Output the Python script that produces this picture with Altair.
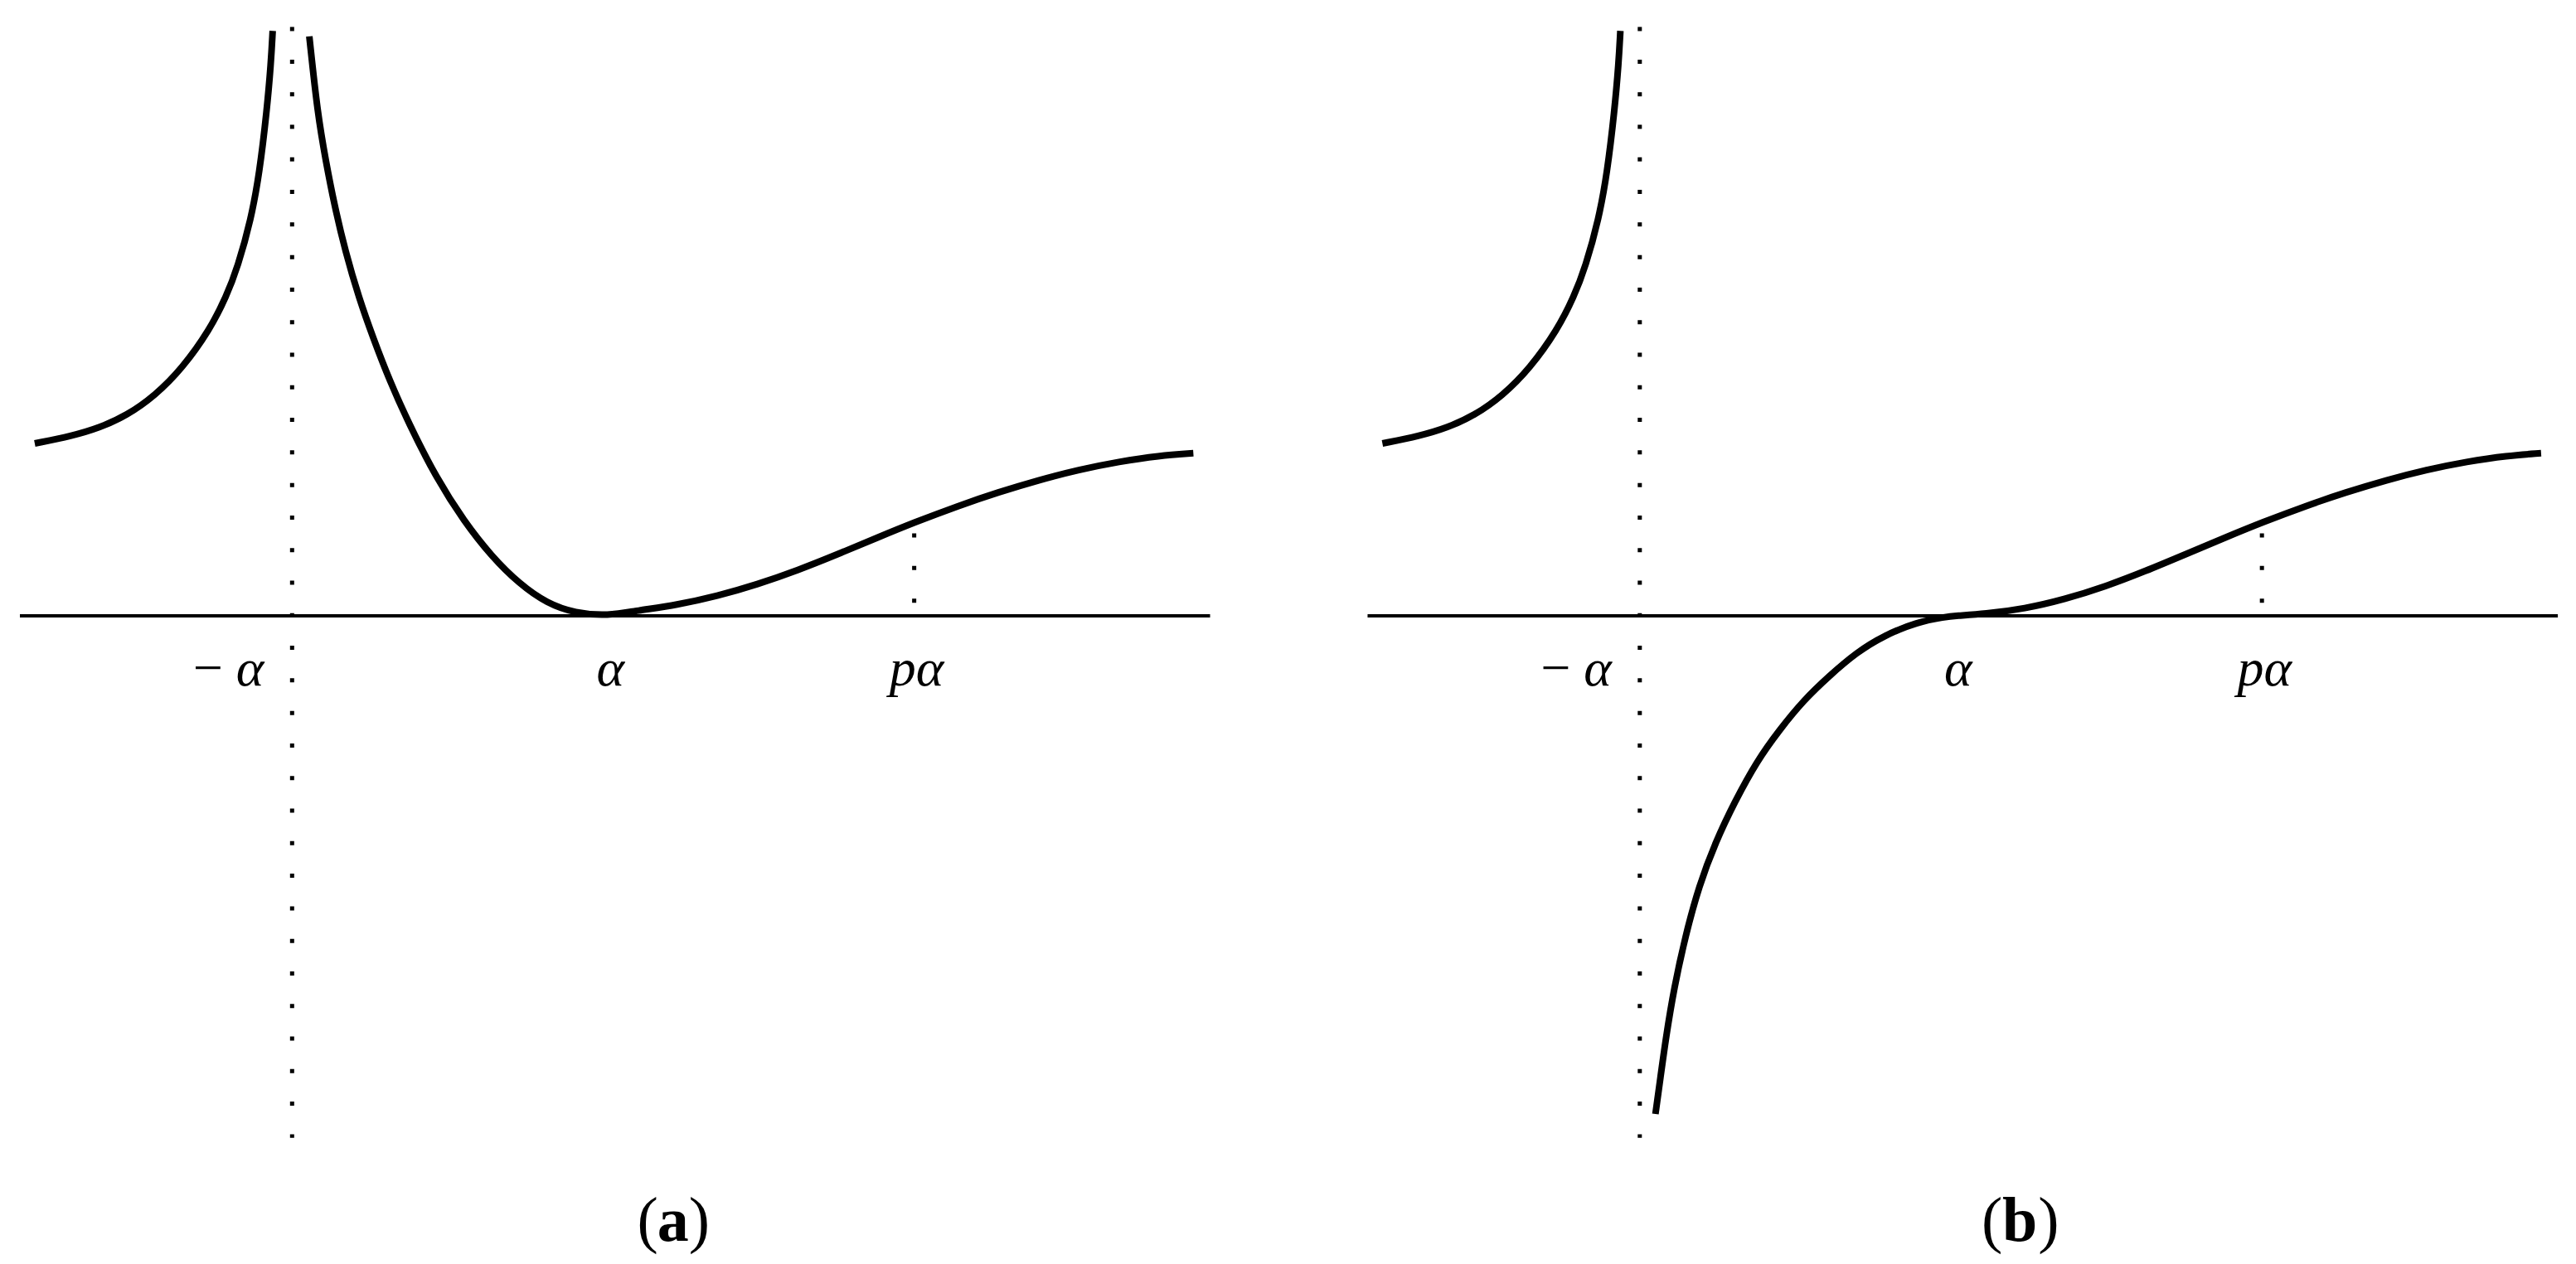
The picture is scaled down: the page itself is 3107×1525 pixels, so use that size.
import altair as alt
import pandas as pd

# ---- values (x in units of alpha, y in the same plot units) ----
tick_x = [-1.0, 1.0, 2.94]
tick_text = ["−\u2009α", "α", "pα"]

# left branch (identical in both panels): x < -alpha
left_x = [-2.630, -2.394, -2.220, -2.047, -1.869, -1.696, -1.522, -1.417, -1.344, -1.260, -1.207, -1.160, -1.134, -1.123]
left_y = [1.092, 1.139, 1.191, 1.269, 1.394, 1.567, 1.811, 2.021, 2.211, 2.513, 2.803, 3.200, 3.500, 3.706]

# panel (a): branch right of the pole, falling to a double zero at alpha, then rising
a_right_x = [-0.891, -0.838, -0.786, -0.733, -0.663, -0.576, -0.488, -0.383, -0.261, -0.086, 0.089, 0.264, 0.439,
             0.614, 0.792, 1.0, 1.184, 1.438, 1.692, 1.947, 2.202, 2.456, 2.710, 2.939, 3.219, 3.473, 3.728,
             3.983, 4.237, 4.491, 4.708]
a_right_y = [3.671, 3.176, 2.879, 2.606, 2.309, 2.012, 1.764, 1.491, 1.219, 0.872, 0.599, 0.376, 0.203,
             0.079, 0.017, 0.0, 0.033, 0.069, 0.125, 0.199, 0.288, 0.390, 0.497, 0.591, 0.697, 0.783, 0.860,
             0.926, 0.977, 1.015, 1.030]

# panel (b): branch coming up from -infinity through a triple zero at alpha, then rising
b_right_x = [-0.901, -0.870, -0.835, -0.782, -0.712, -0.625, -0.520, -0.397, -0.257, -0.117, 0.040, 0.198,
             0.373, 0.548, 0.757, 0.933, 1.0, 1.184, 1.438, 1.692, 1.947, 2.202, 2.456, 2.710, 2.939, 3.219,
             3.473, 3.728, 3.983, 4.237, 4.491, 4.708]
b_right_y = [-3.156, -2.931, -2.674, -2.353, -2.031, -1.710, -1.432, -1.174, -0.918, -0.724, -0.532, -0.382,
             -0.231, -0.124, -0.039, -0.007, 0.0, 0.012, 0.045, 0.105, 0.185, 0.283, 0.390, 0.497, 0.591, 0.697,
             0.783, 0.860, 0.926, 0.977, 1.015, 1.030]

axis_from, axis_to = -2.724, 4.814
asym_top, asym_bottom = 3.730, -3.306
p_dot_top = 0.522

captions = ["a", "b"]

Y_DOM = [-4.068, 3.858]


def curve_frame(parts):
    rows = []
    for name, xs, ys in parts:
        for xv, yv in zip(xs, ys):
            rows.append({"x": xv, "y": yv, "branch": name})
    return pd.DataFrame(rows)


def panel(df, xdom, width, cap, cap_pos):
    X = alt.X("x:Q", scale=alt.Scale(domain=xdom, nice=False, zero=False), axis=None)
    Y = alt.Y("y:Q", scale=alt.Scale(domain=Y_DOM, nice=False, zero=False), axis=None)

    curves = alt.Chart(df).mark_line(
        color="black", strokeWidth=8, interpolate="basis", strokeCap="butt"
    ).encode(x=X, y=Y, detail="branch:N")

    axis_line = alt.Chart(pd.DataFrame({"x": [axis_from], "x2": [axis_to], "y": [0.0]})).mark_rule(
        color="black", strokeWidth=4
    ).encode(x=X, x2="x2:Q", y=Y)

    dots = alt.Chart(pd.DataFrame({
        "x": [tick_x[0], tick_x[2]],
        "y": [asym_top, p_dot_top],
        "y2": [asym_bottom, 0.0],
    })).mark_rule(color="black", strokeWidth=5, strokeDash=[5, 34.3], strokeCap="butt").encode(
        x=X, y=Y, y2="y2:Q"
    )

    lab_df = pd.DataFrame({"x": tick_x, "t": tick_text})
    lab_minus = alt.Chart(lab_df.iloc[[0]]).mark_text(
        font="Liberation Serif", fontStyle="italic", fontSize=64, align="right",
        baseline="alphabetic", dx=-34, color="black"
    ).encode(x=X, y=alt.value(819), text="t:N")
    lab_rest = alt.Chart(lab_df.iloc[[1, 2]]).mark_text(
        font="Liberation Serif", fontStyle="italic", fontSize=64, align="center",
        baseline="alphabetic", dx=3, color="black"
    ).encode(x=X, y=alt.value(819), text="t:N")

    cap_df = pd.DataFrame({"t": ["(", cap, ")"]})
    c_open = alt.Chart(cap_df.iloc[[0]]).mark_text(
        font="Liberation Serif", fontSize=76, align="right", baseline="alphabetic", color="black"
    ).encode(x=alt.value(cap_pos[0]), y=alt.value(1489), text="t:N")
    c_mid = alt.Chart(cap_df.iloc[[1]]).mark_text(
        font="Liberation Serif", fontWeight="bold", fontSize=76, align="center",
        baseline="alphabetic", color="black"
    ).encode(x=alt.value(cap_pos[1]), y=alt.value(1489), text="t:N")
    c_close = alt.Chart(cap_df.iloc[[2]]).mark_text(
        font="Liberation Serif", fontSize=76, align="left", baseline="alphabetic", color="black"
    ).encode(x=alt.value(cap_pos[2]), y=alt.value(1489), text="t:N")

    return alt.layer(dots, axis_line, curves, lab_minus, lab_rest, c_open, c_mid, c_close).properties(
        width=width, height=1510
    )


df_a = curve_frame([("L", left_x, left_y), ("R", a_right_x, a_right_y)])
df_b = curve_frame([("L", left_x, left_y), ("R", b_right_x, b_right_y)])

pa = panel(df_a, [-2.808, 5.066], 1500, captions[0], [786, 804, 823])
pb = panel(df_b, [-2.808, 4.887], 1466, captions[1], [782, 803, 825])

chart = alt.hconcat(pa, pb, spacing=126).properties(
    padding=0, background="white"
).configure_view(stroke=None)

chart.save("out.html", embed_options={"renderer": "svg", "actions": False})
